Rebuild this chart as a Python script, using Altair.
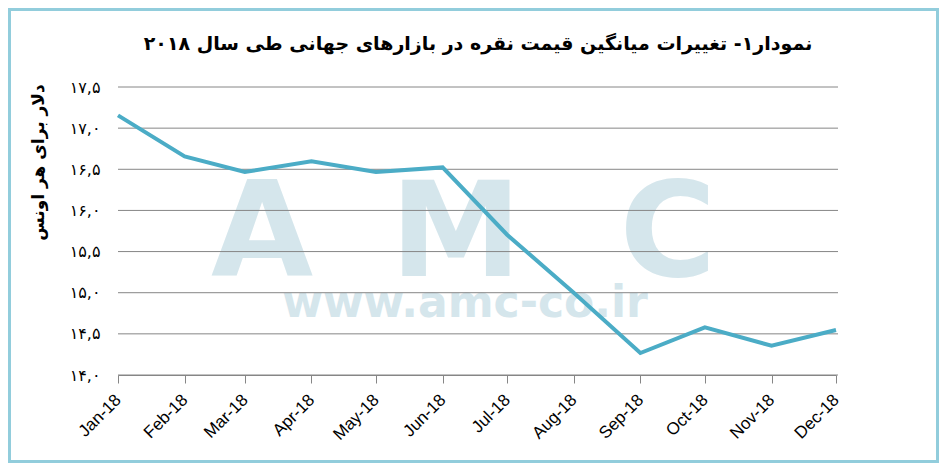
import altair as alt
import pandas as pd

# ---- data ----
months = ["2018-01-01", "2018-02-01", "2018-03-01", "2018-04-01", "2018-05-01", "2018-06-01",
          "2018-07-01", "2018-08-01", "2018-09-01", "2018-10-01", "2018-11-01", "2018-12-01"]
prices = [17.155, 16.657, 16.467, 16.596, 16.467, 16.523,
          15.705, 15.0, 14.267, 14.578, 14.356, 14.547]
y_ticks = [14.0, 14.5, 15.0, 15.5, 16.0, 16.5, 17.0, 17.5]
y_tick_labels = ["۱۴,۰", "۱۴,۵", "۱۵,۰", "۱۵,۵", "۱۶,۰", "۱۶,۵", "۱۷,۰", "۱۷,۵"]
title_text = "نمودار۱- تغییرات میانگین قیمت نقره  در بازارهای جهانی طی سال ۲۰۱۸"
y_title = "دلار برای هر اونس"
watermark_letters = ["A", "M", "C"]
watermark_url = "www.amc-co.ir"

W, H = 718, 288
PAD_L, PAD_T, PAD_R, PAD_B = 110, 79, 103, 88

df = pd.DataFrame({"month": months, "price": prices})
grid_df = pd.DataFrame({"price": y_ticks})

label_expr = "[" + ",".join("'%s'" % s for s in y_tick_labels) + "][round((datum.value-14)*2)]"

x_scale = alt.Scale(type="utc", domain=[months[0], months[-1]], nice=False)
y_scale = alt.Scale(domain=[14, 17.5], nice=False, zero=False)

x_enc = alt.X("month:T", scale=x_scale,
              axis=alt.Axis(title=None, grid=False, domainColor="#868686", tickColor="#868686",
                            tickSize=8, values=[alt.DateTime(year=2018, month=m, date=1, utc=True) for m in range(1, 13)],
                            labelExpr="utcFormat(datum.value, '%b-%y')", labelAngle=-45,
                            labelAlign="right", labelBaseline="middle", labelPadding=14,
                            labelFont="Liberation Sans", labelFontSize=17, labelColor="#000000"))
y_axis = alt.Axis(title=y_title, grid=False, domain=False, ticks=False, values=y_ticks,
                  labelExpr=label_expr, labelFont="DejaVu Sans", labelFontSize=16,
                  labelColor="#000000", labelPadding=18,
                  titleFont="DejaVu Sans", titleFontSize=17, titleFontWeight="bold",
                  titleColor="#000000", titleX=-80, titleY=75, titleAngle=-90,
                  titleAlign="center", titleBaseline="middle")
y_enc = alt.Y("price:Q", scale=y_scale, axis=y_axis)

wm_color = "#D5E6EC"
wm_pos = [(144, 189), (338, 189), (550, 189)]
wm_layers = []
for letter, (px, py) in zip(watermark_letters, wm_pos):
    wm_layers.append(
        alt.Chart(pd.DataFrame({"t": [letter]})).mark_text(
            font="DejaVu Sans", fontSize=132, fontWeight="bold", color=wm_color,
            align="center", baseline="alphabetic"
        ).encode(text="t:N", x=alt.value(px), y=alt.value(py))
    )
wm_layers.append(
    alt.Chart(pd.DataFrame({"t": [watermark_url]})).mark_text(
        font="DejaVu Sans", fontSize=44, fontWeight="bold", color=wm_color,
        align="center", baseline="alphabetic"
    ).encode(text="t:N", x=alt.value(347), y=alt.value(230))
)

grid = alt.Chart(grid_df).mark_rule(color="#868686", strokeWidth=1).encode(
    y=y_enc,
    x=alt.value(0), x2=alt.value(W + 2)
)

line = alt.Chart(df).mark_line(color="#4BACC6", strokeWidth=4, strokeJoin="miter").encode(
    x=x_enc, y=y_enc
)

title = alt.Chart(pd.DataFrame({"t": [title_text]})).mark_text(
    font="DejaVu Sans", fontSize=19, fontWeight="bold", color="#000000",
    align="center", baseline="middle"
).encode(text="t:N", x=alt.value(360), y=alt.value(-43))

frame = alt.Chart(pd.DataFrame({"a": [0]})).mark_rect(
    fill=None, stroke="#92CDDC", strokeWidth=3
).encode(
    x=alt.value(-PAD_L + 1.5), x2=alt.value(W + PAD_R - 1.5),
    y=alt.value(-PAD_T + 1.5), y2=alt.value(H + PAD_B - 1.5)
)

chart = alt.layer(*wm_layers, grid, line, title, frame).properties(
    width=W, height=H,
    autosize=alt.AutoSizeParams(type="none"),
    padding={"left": PAD_L, "top": PAD_T, "right": PAD_R, "bottom": PAD_B},
    background="white"
).configure_view(stroke=None)

chart.save("out.html", embed_options={"renderer": "svg", "actions": False})
